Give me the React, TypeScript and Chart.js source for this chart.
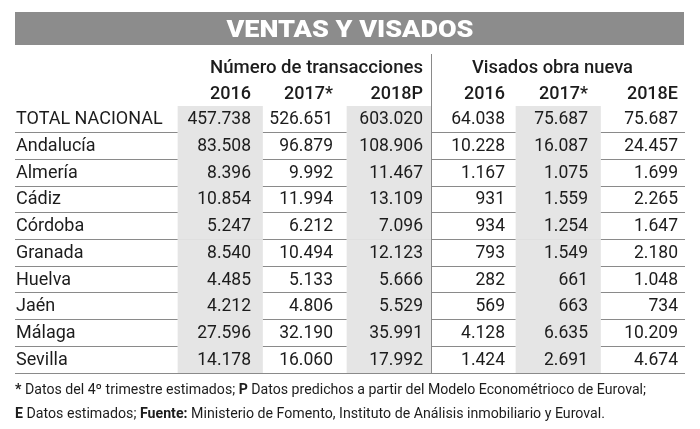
import React, { useEffect, useRef } from 'react';
import { Chart, registerables } from 'chart.js';

Chart.register(...registerables);

// ---------- data ----------
const TITLE = 'VENTAS Y VISADOS';
const GROUP_LABELS = ['Número de transacciones', 'Visados obra nueva'];
const YEAR_LABELS = ['2016', '2017*', '2018P', '2016', '2017*', '2018E'];
const REGIONS = [
  'TOTAL NACIONAL', 'Andalucía', 'Almería', 'Cádiz', 'Córdoba',
  'Granada', 'Huelva', 'Jaén', 'Málaga', 'Sevilla',
];
const TRANS_2016 = [457738, 83508, 8396, 10854, 5247, 8540, 4485, 4212, 27596, 14178];
const TRANS_2017 = [526651, 96879, 9992, 11994, 6212, 10494, 5133, 4806, 32190, 16060];
const TRANS_2018P = [603020, 108906, 11467, 13109, 7096, 12123, 5666, 5529, 35991, 17992];
const VIS_2016 = [64038, 10228, 1167, 931, 934, 793, 282, 569, 4128, 1424];
const VIS_2017 = [75687, 16087, 1075, 1559, 1254, 1549, 661, 663, 6635, 2691];
const VIS_2018E = [75687, 24457, 1699, 2265, 1647, 2180, 1048, 734, 10209, 4674];
const COLUMNS = [TRANS_2016, TRANS_2017, TRANS_2018P, VIS_2016, VIS_2017, VIS_2018E];
const SHADED_COLUMNS = [0, 2, 4];
const FOOTNOTE_1: [string, boolean][] = [
  ['* ', true],
  ['Datos del 4º trimestre estimados; ', false],
  ['P', true],
  [' Datos predichos a partir del Modelo Econométrioco de Euroval;', false],
];
const FOOTNOTE_2: [string, boolean][] = [
  ['E', true],
  [' Datos estimados; ', false],
  ['Fuente:', true],
  [' Ministerio de Fomento, Instituto de Análisis inmobiliario y Euroval.', false],
];

// ---------- layout / style ----------
const LAYOUT = {
  padLeft: 15, padRight: 15, padTop: 106, padBottom: 56,
  labelW: 1.929,          // label column width in column units
  xMax: 7.929,            // total width in column units
  numRight: [2.793, 3.763, 4.828, 5.799, 6.781, 7.846],
  groupCenter: [3.568, 6.361],
  groupWidth: [213, 161],
  titleTop: 12, titleBottom: 45, titleBaseline: 37, titleWidth: 247,
  groupBaselineOffset: 7.2,
  yearBaselineOffset: 6.3,
  bodyBaselineOffset: 5.0,
  sepTop: 54,
  foot1Baseline: 393.5, foot1Width: 631,
  foot2Baseline: 417.5, foot2Width: 590,
};
const FONT = 'Roboto, "Noto Sans", sans-serif';
const TEXT = '#1c1c1c';
const SHADE = '#e5e5e5';
const RULE = '#8a8a8a';
const TITLE_BG = '#8c8c8c';

const fmt = (n: number) => n.toString().replace(/\B(?=(\d{3})+(?!\d))/g, '.');

const tablePlugin = {
  id: 'tableText',
  afterDraw(chart: any) {
    const { ctx } = chart;
    const x = chart.scales.x;
    const y = chart.scales.y;
    const left = x.getPixelForValue(0);
    const right = x.getPixelForValue(LAYOUT.xMax);
    const y0 = y.getPixelForValue(0);
    const rowH = y.getPixelForValue(1) - y0;
    ctx.save();

    // title bar
    ctx.fillStyle = TITLE_BG;
    ctx.fillRect(left, LAYOUT.titleTop, right - left - 1, LAYOUT.titleBottom - LAYOUT.titleTop);
    ctx.fillStyle = '#ffffff';
    ctx.font = `900 24px ${FONT}`;
    ctx.textAlign = 'center';
    ctx.textBaseline = 'alphabetic';
    {
      const w = ctx.measureText(TITLE).width;
      ctx.save();
      ctx.translate((left + right) / 2, LAYOUT.titleBaseline);
      ctx.scale(LAYOUT.titleWidth / w, 1);
      ctx.fillText(TITLE, 0, 0);
      ctx.restore();
    }

    // vertical separator
    const sx = Math.round(x.getPixelForValue(LAYOUT.labelW + 3)) - 0.5;
    ctx.strokeStyle = RULE;
    ctx.lineWidth = 1;
    ctx.beginPath();
    ctx.moveTo(sx, LAYOUT.sepTop);
    ctx.lineTo(sx, chart.chartArea.bottom);
    ctx.stroke();

    // group headers
    ctx.fillStyle = TEXT;
    ctx.font = `500 18px ${FONT}`;
    GROUP_LABELS.forEach((g, i) => {
      const w = ctx.measureText(g).width;
      ctx.save();
      ctx.translate(x.getPixelForValue(LAYOUT.groupCenter[i]), y0 - 2 * rowH + LAYOUT.groupBaselineOffset);
      ctx.scale(LAYOUT.groupWidth[i] / w, 1);
      ctx.textAlign = 'center';
      ctx.fillText(g, 0, 0);
      ctx.restore();
    });

    // year headers
    ctx.textAlign = 'right';
    YEAR_LABELS.forEach((yl, c) => {
      ctx.fillText(yl, x.getPixelForValue(LAYOUT.numRight[c]), y0 - rowH + LAYOUT.yearBaselineOffset);
    });

    // body
    REGIONS.forEach((r, i) => {
      const by = y.getPixelForValue(i) + LAYOUT.bodyBaselineOffset;
      ctx.font = `18px ${FONT}`;
      ctx.textAlign = 'left';
      ctx.fillText(r, left + 1, by);
      ctx.font = `17.5px ${FONT}`;
      ctx.textAlign = 'right';
      COLUMNS.forEach((col, c) => {
        ctx.fillText(fmt(col[i]), x.getPixelForValue(LAYOUT.numRight[c]), by);
      });
    });

    // footnotes
    const drawSegs = (segs: [string, boolean][], baseline: number, target: number) => {
      let total = 0;
      segs.forEach(([t, b]) => {
        ctx.font = `${b ? 'bold ' : ''}14px ${FONT}`;
        total += ctx.measureText(t).width;
      });
      ctx.save();
      ctx.translate(left, baseline);
      ctx.scale(target / total, 1);
      ctx.textAlign = 'left';
      let px = 0;
      segs.forEach(([t, b]) => {
        ctx.font = `${b ? 'bold ' : ''}14px ${FONT}`;
        ctx.fillText(t, px, 0);
        px += ctx.measureText(t).width;
      });
      ctx.restore();
    };
    ctx.fillStyle = TEXT;
    drawSegs(FOOTNOTE_1, LAYOUT.foot1Baseline, LAYOUT.foot1Width);
    drawSegs(FOOTNOTE_2, LAYOUT.foot2Baseline, LAYOUT.foot2Width);

    ctx.restore();
  },
};

export default function App() {
  const ref = useRef<HTMLCanvasElement | null>(null);
  useEffect(() => {
    if (!ref.current) return;
    const datasets = SHADED_COLUMNS.map((c) => ({
      label: YEAR_LABELS[c],
      data: REGIONS.map(() => [LAYOUT.labelW + c, LAYOUT.labelW + c + 1]),
      backgroundColor: SHADE,
      borderWidth: 0,
      grouped: false,
      barPercentage: 1,
      categoryPercentage: 1,
    }));
    const chart = new Chart(ref.current, {
      type: 'bar',
      data: { labels: REGIONS, datasets },
      options: {
        indexAxis: 'y',
        responsive: true,
        maintainAspectRatio: false,
        animation: false,
        events: [],
        layout: {
          padding: {
            left: LAYOUT.padLeft, right: LAYOUT.padRight,
            top: LAYOUT.padTop, bottom: LAYOUT.padBottom,
          },
        },
        plugins: { legend: { display: false }, tooltip: { enabled: false } },
        scales: {
          x: { type: 'linear', min: 0, max: LAYOUT.xMax, display: false },
          y: {
            type: 'category',
            display: true,
            offset: true,
            z: 1,
            ticks: { display: false },
            border: { display: false },
            grid: {
              offset: true,
              drawTicks: false,
              lineWidth: 1,
              color: (ctx: any) => (ctx.index === 0 ? 'rgba(0,0,0,0)' : RULE),
            },
          },
        },
      } as any,
      plugins: [tablePlugin],
    });
    return () => chart.destroy();
  }, []);
  return (
    <div style={{ position: 'absolute', left: 0, top: 0, width: 700, height: 429, background: '#fff' }}>
      <canvas ref={ref} />
    </div>
  );
}
